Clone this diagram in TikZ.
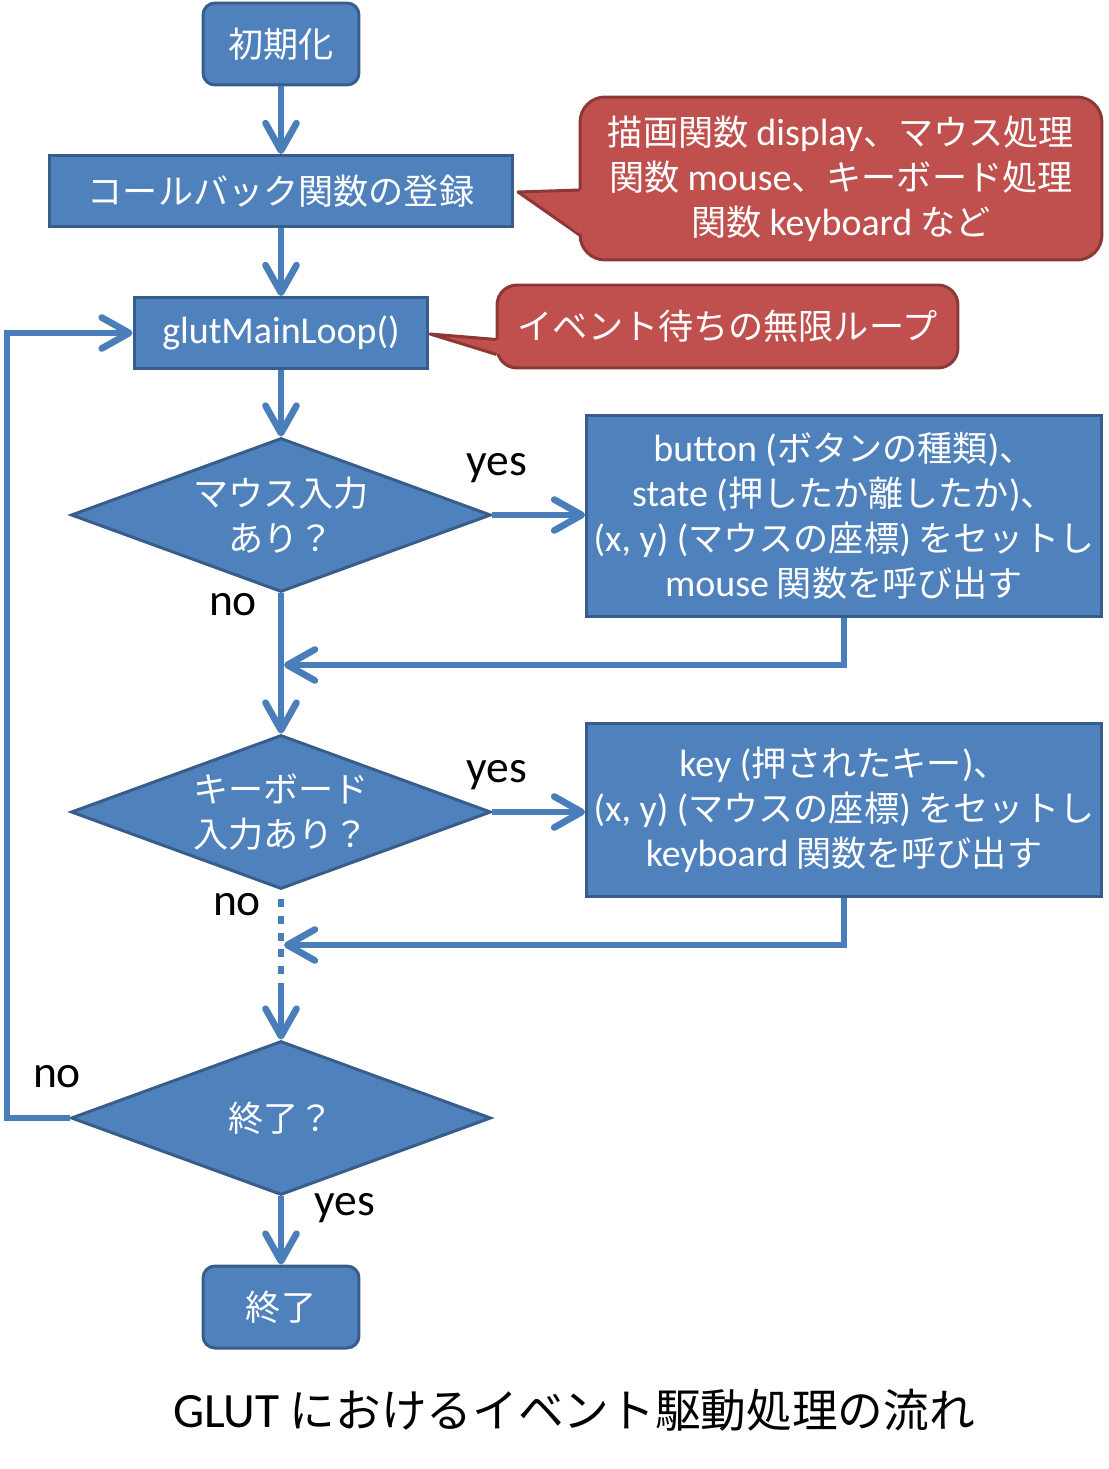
\documentclass[tikz,border=0pt]{standalone}
\usepackage{fontspec}
\setmainfont{Noto Sans CJK JP}
\newfontfamily\lat{Carlito}[Scale=1.08]
\usepackage{tikz}
\usetikzlibrary{arrows.meta,shapes.geometric,calc}

\definecolor{boxfill}{HTML}{4F81BD}
\definecolor{boxline}{HTML}{385D8A}
\definecolor{notefill}{HTML}{C0504D}
\definecolor{noteline}{HTML}{8C3836}
\definecolor{flowline}{HTML}{4A7EBB}

\tikzset{
  txt/.style={font=\fontsize{20pt}{25.5pt}\selectfont, text=white, align=center},
  startstop/.style={txt, draw=boxline, fill=boxfill, line width=1.7pt, rounded corners=0.24cm,
    minimum width=3.12cm, minimum height=1.64cm},
  proc/.style={txt, draw=boxline, fill=boxfill, line width=1.7pt, minimum height=1.42cm, inner sep=0pt},
  decide/.style={txt, diamond, aspect=2.73, draw=boxline, fill=boxfill, line width=1.7pt,
    minimum width=8.4cm, minimum height=3.08cm, inner sep=0pt},
  note/.style={txt, draw=noteline, fill=notefill, line width=1.7pt, rounded corners=0.5cm},
  flow/.style={draw=flowline, line width=3.8pt, -{Straight Barb[length=5.5mm,width=6.2mm,round]}},
  conn/.style={draw=flowline, line width=3.8pt},
  lbl/.style={font=\lat\fontsize{24pt}{28pt}\selectfont, text=black},
}

\begin{document}
\begin{tikzpicture}[x=0.02cm,y=-0.02cm]
\useasboundingbox (0,0) rectangle (1108,1469);

% main flow
\node[startstop] (init) at (281,44) {初期化};
\node[proc, minimum width=9.28cm] (reg) at (281,191) {コールバック関数の登録};
\node[proc, minimum width=5.88cm] (loop) at (281,333) {{\lat glutMainLoop()}};
\node[decide] (mouseq) at (281,515) {マウス入力\\あり？};
\node[proc, minimum width=10.3cm, minimum height=4.02cm] (mousecb) at (844,516)
  {{\lat button (}ボタンの種類{\lat )}、\\
   {\lat state (}押したか離したか{\lat )}、\\
   {\lat (x, y) (}マウスの座標{\lat )} をセットし\\
   {\lat mouse} 関数を呼び出す};
\node[decide] (keyq) at (281,812) {キーボード\\入力あり？};
\node[proc, minimum width=10.3cm, minimum height=3.48cm] (keycb) at (844,810)
  {{\lat key (}押されたキー{\lat )}、\\
   {\lat (x, y) (}マウスの座標{\lat )} をセットし\\
   {\lat keyboard} 関数を呼び出す};
\node[decide] (endq) at (281,1118) {終了？};
\node[startstop] (fin) at (281,1307) {終了};

% callouts
\node[note, minimum width=10.44cm, minimum height=3.26cm] (note1) at (841,178.5)
  {描画関数 {\lat display}、マウス処理\\
   関数 {\lat mouse}、キーボード処理\\
   関数 {\lat keyboard} など};
\coordinate (tip1) at (518,192);
\fill[notefill] (tip1) -- ($(note1.west)+(4,11.5)$) -- ($(note1.west)+(4,56.5)$) -- cycle;
\draw[noteline, line width=1.7pt, line join=round] ($(note1.west)+(1,11.5)$) -- (tip1) -- ($(note1.west)+(1,56.5)$);

\node[note, rounded corners=0.4cm, minimum width=9.22cm, minimum height=1.66cm] (note2) at (727.5,326.5)
  {イベント待ちの無限ループ};
\coordinate (tip2) at (430,334);
\fill[notefill] (tip2) -- ($(note2.west)+(4,13)$) -- ($(note2.west)+(4,28)$) -- cycle;
\draw[noteline, line width=1.7pt, line join=round] ($(note2.west)+(1,13)$) -- (tip2) -- ($(note2.west)+(1,28)$);

% connectors
\draw[flow] (init) -- (reg);
\draw[flow] (reg) -- (loop);
\draw[flow] (loop) -- (mouseq);
\draw[flow] (mouseq.east) -- (mouseq.east -| mousecb.west);
\draw[flow] (mouseq.south) -- (keyq.north);
\coordinate (join1) at (284,665);
\draw[flow] (mousecb.south) |- (join1);
\draw[flow] (keyq.east) -- (keyq.east -| keycb.west);
\coordinate (dotend) at (281,983);
\draw[conn, dash pattern=on 4.5pt off 5pt, dash phase=4.5pt] (keyq.south) -- (dotend);
\draw[flow] (dotend) -- (endq.north);
\coordinate (join2) at (284,945);
\draw[flow] (keycb.south) |- (join2);
\coordinate (back) at (7,1118);
\draw[flow] (endq.west) -- (back) |- (loop.west);
\draw[flow] (endq.south) -- (fin.north);

% labels
\node[lbl] (yes1) at (497,468) {yes};
\node[lbl] (no1) at (233,605) {no};
\node[lbl] (yes2) at (497,775) {yes};
\node[lbl] (no2) at (237,905) {no};
\node[lbl] (no3) at (57,1077) {no};
\node[lbl] (yes3) at (345,1208) {yes};

\node[font=\fontsize{26pt}{30pt}\selectfont] (caption) at (574,1410) {{\lat GLUT} におけるイベント駆動処理の流れ};
\end{tikzpicture}
\end{document}
